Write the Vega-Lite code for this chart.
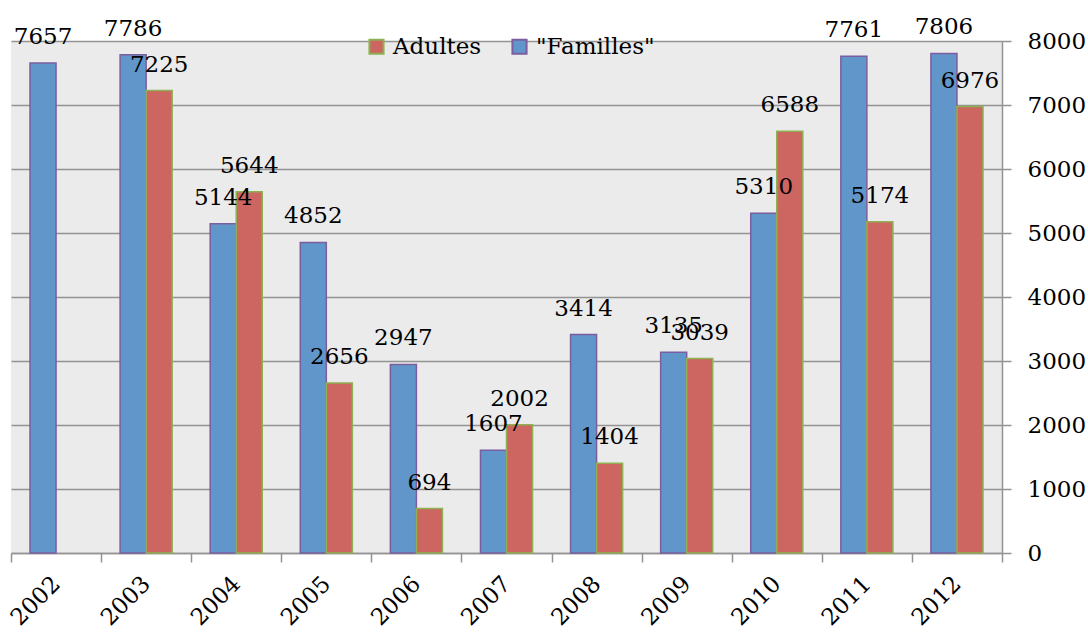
{
  "$schema": "https://vega.github.io/schema/vega-lite/v6.json",
  "width": 991,
  "height": 512,
  "autosize": {"type": "none"},
  "padding": {"left": 11, "top": 41, "right": 86, "bottom": 80},
  "config": {"view": {"fill": "#EBEBEB", "stroke": null}, "font": "DejaVu Serif"},
  "data": {"values": [
    {"year": "2002", "series": "\"Familles\"", "value": 7657},
    {"year": "2003", "series": "\"Familles\"", "value": 7786},
    {"year": "2004", "series": "\"Familles\"", "value": 5144},
    {"year": "2005", "series": "\"Familles\"", "value": 4852},
    {"year": "2006", "series": "\"Familles\"", "value": 2947},
    {"year": "2007", "series": "\"Familles\"", "value": 1607},
    {"year": "2008", "series": "\"Familles\"", "value": 3414},
    {"year": "2009", "series": "\"Familles\"", "value": 3135},
    {"year": "2010", "series": "\"Familles\"", "value": 5310},
    {"year": "2011", "series": "\"Familles\"", "value": 7761},
    {"year": "2012", "series": "\"Familles\"", "value": 7806},
    {"year": "2003", "series": "Adultes", "value": 7225},
    {"year": "2004", "series": "Adultes", "value": 5644},
    {"year": "2005", "series": "Adultes", "value": 2656},
    {"year": "2006", "series": "Adultes", "value": 694},
    {"year": "2007", "series": "Adultes", "value": 2002},
    {"year": "2008", "series": "Adultes", "value": 1404},
    {"year": "2009", "series": "Adultes", "value": 3039},
    {"year": "2010", "series": "Adultes", "value": 6588},
    {"year": "2011", "series": "Adultes", "value": 5174},
    {"year": "2012", "series": "Adultes", "value": 6976}
  ]},
  "encoding": {
    "x": {
      "field": "year", "type": "nominal", "title": null,
      "scale": {"paddingInner": 0, "paddingOuter": 0},
      "axis": {
        "tickBand": "extent", "tickSize": 9, "tickColor": "#939393", "tickWidth": 1.5,
        "domainColor": "#939393", "domainWidth": 1.5,
        "labelAngle": -45, "labelAlign": "right", "labelBaseline": "middle",
        "labelPadding": 18, "labelFontSize": 23, "labelFont": "DejaVu Serif", "labelColor": "black",
        "labelOverlap": false, "labelBound": false, "labelFlush": false
      }
    },
    "xOffset": {"field": "series", "type": "nominal", "sort": ["\"Familles\"", "Adultes"], "scale": {"paddingInner": 0, "paddingOuter": 0.73}},
    "y": {
      "field": "value", "type": "quantitative", "title": null,
      "scale": {"domain": [0, 8000]},
      "axis": {
        "orient": "right", "values": [0, 1000, 2000, 3000, 4000, 5000, 6000, 7000, 8000],
        "format": "d",
        "grid": true, "gridColor": "#939393", "gridWidth": 1.5,
        "domainColor": "#939393", "domainWidth": 1.5,
        "tickColor": "#939393", "tickWidth": 1.5, "tickSize": 9,
        "labelPadding": 16, "labelFontSize": 23, "labelFont": "DejaVu Serif", "labelColor": "black",
        "labelOverlap": false, "labelBound": false, "labelFlush": false
      }
    }
  },
  "layer": [
    {
      "mark": {"type": "bar", "strokeWidth": 1.5},
      "encoding": {
        "color": {
          "field": "series", "type": "nominal",
          "scale": {"domain": ["Adultes", "\"Familles\""], "range": ["#CD6560", "#6096C9"]},
          "legend": {
            "title": null, "orient": "none", "direction": "horizontal",
            "legendX": 354, "legendY": -6,
            "symbolType": "square", "symbolSize": 200,
            "labelFontSize": 23, "labelFont": "DejaVu Serif", "labelColor": "black",
            "labelOffset": 5, "columnPadding": 26,
            "encode": {"symbols": {"update": {
              "stroke": {"signal": "datum.value === 'Adultes' ? '#8DB153' : '#7B5EA0'"},
              "strokeWidth": {"value": 2}
            }}}
          }
        },
        "stroke": {
          "field": "series", "type": "nominal",
          "scale": {"domain": ["Adultes", "\"Familles\""], "range": ["#8DB153", "#7B5EA0"]},
          "legend": null
        }
      }
    },
    {
      "mark": {"type": "text", "baseline": "alphabetic", "dy": -19, "fontSize": 23, "font": "DejaVu Serif", "color": "black"},
      "encoding": {"text": {"field": "value", "type": "quantitative", "format": "d"}}
    }
  ]
}
